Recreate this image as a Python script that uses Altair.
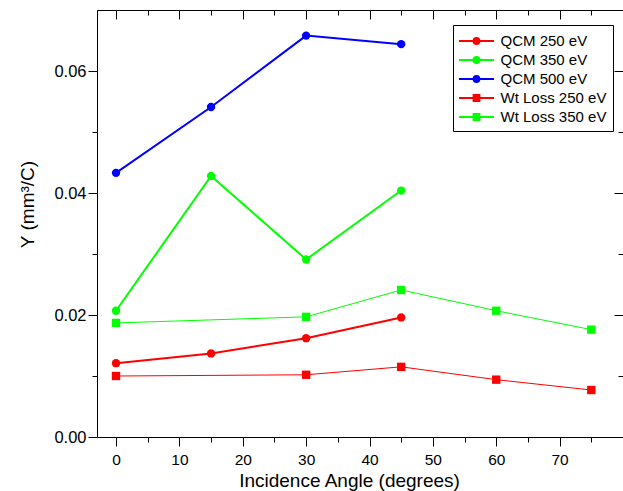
import altair as alt
import pandas as pd

# ---- data ----
series_names = ["QCM 250 eV", "QCM 350 eV", "QCM 500 eV", "Wt Loss 250 eV", "Wt Loss 350 eV"]
series_colors = ["#ff0000", "#00ff00", "#0000ff", "#ff0000", "#00ff00"]
legend_line_widths = [2, 2, 2, 1, 1]
legend_line_opacity = [1, 1, 1, 0.6, 0.6]

angles_qcm = [0, 15, 30, 45]
qcm250 = [0.0121, 0.0137, 0.0162, 0.0196]
qcm350 = [0.0207, 0.0428, 0.0291, 0.0404]
qcm500 = [0.0433, 0.0541, 0.0658, 0.0644]

angles_wt = [0, 30, 45, 60, 75]
wt250 = [0.0100, 0.0102, 0.0115, 0.0094, 0.0077]
wt350 = [0.0187, 0.0197, 0.0241, 0.0207, 0.0176]

x_ticks = [0, 5, 10, 15, 20, 25, 30, 35, 40, 45, 50, 55, 60, 65, 70, 75]
x_major = [0, 10, 20, 30, 40, 50, 60, 70]
x_minor = [5, 15, 25, 35, 45, 55, 65, 75]
y_ticks = [0.0, 0.01, 0.02, 0.03, 0.04, 0.05, 0.06]
y_major = [0.0, 0.02, 0.04, 0.06]
y_minor = [0.01, 0.03, 0.05]

rows = []
for name, ys in zip(series_names[:3], [qcm250, qcm350, qcm500]):
    for a, v in zip(angles_qcm, ys):
        rows.append({"angle": a, "Y": v, "series": name, "kind": "QCM"})
for name, ys in zip(series_names[3:], [wt250, wt350]):
    for a, v in zip(angles_wt, ys):
        rows.append({"angle": a, "Y": v, "series": name, "kind": "Wt"})
df = pd.DataFrame(rows)

FONT = "Liberation Sans"
W, H = 526, 427
xdom = [-3, 80]
ydom = [0, 0.07]

xscale = alt.Scale(domain=xdom, nice=False, zero=False)
yscale = alt.Scale(domain=ydom, nice=False, zero=False)

x_tick_size = {"condition": {"test": "datum.value % 10 === 0", "value": 9}, "value": 5}
y_tick_size = {"condition": {"test": "round(datum.value * 100) % 2 === 0", "value": 9}, "value": 5}

x_main_axis = alt.Axis(
    orient="bottom", values=x_ticks, grid=False,
    labelExpr="datum.value % 10 === 0 ? datum.label : ''",
    tickSize=x_tick_size, tickColor="black", tickWidth=1,
    domainColor="black", domainWidth=1,
    labelFont=FONT, labelFontSize=15.5, labelColor="black", labelPadding=6,
    title="Incidence Angle (degrees)", titleFont=FONT, titleFontSize=19,
    titleFontWeight="normal", titleColor="black",
    titleX=252, titleY=49, titleBaseline="alphabetic", titleAlign="center",
)
y_main_axis = alt.Axis(
    orient="left", values=y_ticks, grid=False, format=".2f",
    labelExpr="round(datum.value * 100) % 2 === 0 ? datum.label : ''",
    tickSize=y_tick_size, tickColor="black", tickWidth=1,
    domainColor="black", domainWidth=1,
    labelFont=FONT, labelFontSize=16.5, labelColor="black", labelPadding=2,
    title="Y (mm³/C)", titleFont=FONT, titleFontSize=19,
    titleFontWeight="normal", titleColor="black",
    titleX=-64, titleY=194, titleBaseline="alphabetic", titleAlign="center",
)
# mirrored frame (top / right), ticks pointing inward
x_frame_major = alt.Axis(
    orient="bottom", offset=-H, values=x_major, grid=False, labels=False,
    tickSize=9, tickColor="black", tickWidth=1,
    domainColor="black", domainWidth=1, title=None,
)
x_frame_minor = alt.Axis(
    orient="bottom", offset=-H, values=x_minor, grid=False, labels=False,
    tickSize=5, tickColor="black", tickWidth=1, domain=False, title=None,
)
y_frame_major = alt.Axis(
    orient="left", offset=-W, values=y_major, grid=False, labels=False,
    tickSize=9, tickColor="black", tickWidth=1, domain=False, title=None,
)
y_frame_minor = alt.Axis(
    orient="left", offset=-W, values=y_minor, grid=False, labels=False,
    tickSize=5, tickColor="black", tickWidth=1, domain=False, title=None,
)

color_scale = alt.Scale(domain=series_names, range=series_colors)
stroke_scale = alt.Scale(domain=series_names, range=series_colors)
sw_scale = alt.Scale(domain=series_names, range=legend_line_widths)
so_scale = alt.Scale(domain=series_names, range=legend_line_opacity)

circle_path = "M-2,0H2M-0.33,0A0.33,0.33,0,1,1,0.33,0A0.33,0.33,0,1,1,-0.33,0Z"
square_path = "M-2,0H2M-0.33,-0.33H0.33V0.33H-0.33Z"
shape_scale = alt.Scale(domain=series_names,
                        range=[circle_path, circle_path, circle_path, square_path, square_path])

legend = alt.Legend(
    title=None, orient="none", legendX=356, legendY=15,
    strokeColor="black", fillColor="white", padding=6,
    symbolSize=306, symbolOffset=7.5, labelOffset=14, rowPadding=1,
    labelFont=FONT, labelFontSize=15, labelColor="black", labelLimit=300,
    symbolOpacity=1,
)

base = alt.Chart(df)

legend_layer = base.transform_filter(alt.datum.angle < -100).mark_point(
    filled=True, opacity=1).encode(
    x=alt.X("angle:Q", scale=xscale, axis=x_frame_minor),
    y=alt.Y("Y:Q", scale=yscale, axis=y_frame_minor),
    color=alt.Color("series:N", scale=color_scale, legend=legend),
    stroke=alt.Stroke("series:N", scale=stroke_scale, legend=legend),
    shape=alt.Shape("series:N", scale=shape_scale, legend=legend),
    strokeWidth=alt.StrokeWidth("series:N", scale=sw_scale, legend=legend),
    strokeOpacity=alt.StrokeOpacity("series:N", scale=so_scale, legend=legend),
)
qcm_lines = base.transform_filter(alt.datum.kind == "QCM").mark_line(strokeWidth=2).encode(
    x=alt.X("angle:Q", scale=xscale, axis=x_main_axis),
    y=alt.Y("Y:Q", scale=yscale, axis=y_main_axis),
    color=alt.Color("series:N", scale=color_scale, legend=None),
)
wt_lines = base.transform_filter(alt.datum.kind == "Wt").mark_line(strokeWidth=1).encode(
    x=alt.X("angle:Q", scale=xscale, axis=x_frame_major),
    y=alt.Y("Y:Q", scale=yscale, axis=y_frame_major),
    color=alt.Color("series:N", scale=color_scale, legend=None),
)
qcm_points = base.transform_filter(alt.datum.kind == "QCM").mark_point(
    shape="circle", filled=True, size=70, opacity=1).encode(
    x=alt.X("angle:Q", scale=xscale, axis=None),
    y=alt.Y("Y:Q", scale=yscale, axis=None),
    color=alt.Color("series:N", scale=color_scale, legend=None),
)
wt_points = base.transform_filter(alt.datum.kind == "Wt").mark_square(
    size=70, opacity=1).encode(
    x=alt.X("angle:Q", scale=xscale, axis=None),
    y=alt.Y("Y:Q", scale=yscale, axis=None),
    color=alt.Color("series:N", scale=color_scale, legend=None),
)

chart = alt.layer(legend_layer, qcm_lines, wt_lines, qcm_points, wt_points).resolve_axis(
    x="independent", y="independent"
).resolve_legend(
    color="independent", stroke="independent", shape="independent",
    strokeWidth="independent", strokeOpacity="independent",
).properties(
    width=W, height=H,
    autosize=alt.AutoSizeParams(type="none"),
    padding={"left": 97, "top": 10, "right": 0, "bottom": 54},
    background="white",
).configure_view(stroke=None)

chart.save("out.html", embed_options={"renderer": "svg", "actions": False})
